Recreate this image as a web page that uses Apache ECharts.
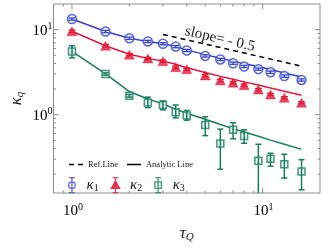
<!DOCTYPE html>
<html><head><meta charset="utf-8">
<script src="https://cdn.jsdelivr.net/npm/echarts@6/dist/echarts.min.js"></script>
<style>html,body{margin:0;padding:0;background:#fff}#c{width:332px;height:248px}</style>
</head><body><div id="c"></div>
<script>
// ---- data ----
const tauQ = [1, 1.5, 2, 2.5, 3, 3.5, 4, 5, 6, 7, 8, 9.5, 11, 13, 16];
const k1 = [13.3, 9.49, 7.9, 7.26, 6.82, 6.31, 5.68, 4.91, 4.46, 4.02, 3.68, 3.43, 3.15, 2.84, 2.56];
const k1Err = [0.4, 0.3, 0.25, 0.22, 0.2, 0.19, 0.17, 0.15, 0.13, 0.12, 0.11, 0.1, 0.1, 0.09, 0.08];
const k2 = [9.57, 6.47, 5.08, 4.58, 4.26, 3.62, 3.43, 2.89, 2.53, 2.38, 2.22, 1.97, 1.73, 1.58, 1.38];
const k2Err = [0.3, 0.2, 0.16, 0.14, 0.13, 0.11, 0.1, 0.09, 0.08, 0.07, 0.07, 0.06, 0.05, 0.05, 0.04];
const k3 = [5.53, 3.01, 1.67, 1.39, 1.30, 1.07, 0.98, 0.757, 0.457, 0.664, 0.561, 0.288, 0.303, 0.262, 0.215];
const k3Lo = [4.66, 2.92, 1.61, 1.21, 1.14, 0.915, 0.862, 0.567, 0.228, 0.521, 0.461, 0.10, 0.248, 0.180, 0.131];
const k3Hi = [6.47, 3.10, 1.73, 1.61, 1.45, 1.30, 1.12, 0.944, 0.676, 0.804, 0.664, 0.449, 0.352, 0.343, 0.296];
const fit1 = [13.3, 9.49, 7.9, 7.26, 6.82, 6.34, 5.78, 5.08, 4.61, 4.26, 3.98, 3.68, 3.39, 3.09, 2.77];
const fit2 = [9.57, 6.47, 5.14, 4.58, 4.26, 3.91, 3.57, 3.14, 2.82, 2.61, 2.43, 2.23, 2.06, 1.88, 1.69];
const fit3 = [5.53, 3.01, 1.87, 1.53, 1.34, 1.16, 1.04, 0.885, 0.766, 0.685, 0.625, 0.557, 0.502, 0.449, 0.391];
const refX = [3, 16];
const refY = [8.78, 3.72];
const xMajorTicks = [1, 10];
const xMinorTicks = [0.9, 2, 3, 4, 5, 6, 7, 8, 9];
const yMajorTicks = [1, 10];
const yMinorTicks = [0.2, 0.3, 0.4, 0.5, 0.6, 0.7, 0.8, 0.9, 2, 3, 4, 5, 6, 7, 8, 9];
const X_MIN = 0.8, X_MAX = 20, Y_MIN = 0.12, Y_MAX = 20;

// ---- style ----
const SERIF = "'Liberation Serif','DejaVu Serif',serif";
const BLUE = '#3142cc', RED = '#e0193a', GREEN = '#1b7d64';
const AXIS = '#8c8c8c', TXT = '#1a1a1a';

const chart = echarts.init(document.getElementById('c'), null, {renderer: 'canvas'});

function pair(xs, ys) { return xs.map((x, i) => [x, ys[i]]); }

function errRender(color, capW, lw) {
  return function (params, api) {
    const x = api.value(0), lo = api.value(1), hi = api.value(2);
    const p1 = api.coord([x, lo]), p2 = api.coord([x, hi]);
    const st = {stroke: color, lineWidth: lw};
    return {type: 'group', children: [
      {type: 'line', shape: {x1: p1[0], y1: p1[1], x2: p2[0], y2: p2[1]}, style: st},
      {type: 'line', shape: {x1: p1[0] - capW / 2, y1: p1[1], x2: p1[0] + capW / 2, y2: p1[1]}, style: st},
      {type: 'line', shape: {x1: p2[0] - capW / 2, y1: p2[1], x2: p2[0] + capW / 2, y2: p2[1]}, style: st}
    ]};
  };
}

const supRich = {
  n: {fontFamily: SERIF, fontSize: 15, lineHeight: 18, color: TXT},
  e: {fontFamily: SERIF, fontSize: 10, lineHeight: 10, verticalAlign: 'top', color: TXT}
};

function xTickRender(params, api) {
  const v = api.value(0), major = api.value(2);
  const b = api.coord([v, Y_MIN]), t = api.coord([v, Y_MAX]);
  const L = major ? 5 : 2.5;
  const st = {stroke: AXIS, lineWidth: 1};
  const ch = [
    {type: 'line', shape: {x1: b[0], y1: b[1], x2: b[0], y2: b[1] - L}, style: st},
    {type: 'line', shape: {x1: t[0], y1: t[1], x2: t[0], y2: t[1] + L}, style: st}
  ];
  if (major) {
    ch.push({type: 'text', x: b[0] + 1, y: b[1] + 9, style: {
      text: '{n|10}{e|' + Math.round(Math.log10(v)) + '}', align: 'center', verticalAlign: 'top', rich: supRich}});
  }
  return {type: 'group', children: ch};
}

function yTickRender(params, api) {
  const v = api.value(1), major = api.value(2);
  const l = api.coord([X_MIN, v]), r = api.coord([X_MAX, v]);
  const L = major ? 5 : 2.5;
  const st = {stroke: AXIS, lineWidth: 1};
  const ch = [
    {type: 'line', shape: {x1: l[0], y1: l[1], x2: l[0] + L, y2: l[1]}, style: st},
    {type: 'line', shape: {x1: r[0], y1: r[1], x2: r[0] - L, y2: r[1]}, style: st}
  ];
  if (major) {
    ch.push({type: 'text', x: l[0] - 1, y: l[1] + 1, style: {
      text: '{n|10}{e|' + Math.round(Math.log10(v)) + '}', align: 'right', verticalAlign: 'middle', rich: supRich}});
  }
  return {type: 'group', children: ch};
}

const xTickData = xMajorTicks.map(v => [v, Y_MIN, 1]).concat(xMinorTicks.map(v => [v, Y_MIN, 0]));
const yTickData = yMajorTicks.map(v => [X_MIN, v, 1]).concat(yMinorTicks.map(v => [X_MIN, v, 0]));

const icon1 = 'path://M2,0L8,0M5,0L5,16M2,16L8,16M8.5,8A3.5,3.5,0,1,1,1.5,8A3.5,3.5,0,1,1,8.5,8Z';
const icon2 = 'path://M2,0L8,0M5,0L5,16M2,16L8,16M5,3.5L9.5,11.5L0.5,11.5Z';
const icon3 = 'path://M2,0L8,0M5,0L5,16M2,16L8,16M1.5,4.5L8.5,4.5L8.5,11.5L1.5,11.5Z';
const iconDash = 'path://M0,0h5v1.5h-5zM9,0h5v1.5h-5z';
const iconSolid = 'path://M0,0h14v1.5h-14z';

const option = {
  animation: false,
  backgroundColor: '#fff',
  grid: {left: 50, right: 12, top: 4, bottom: 49, show: true, borderColor: AXIS, borderWidth: 1, backgroundColor: 'transparent'},
  xAxis: {
    type: 'log', logBase: 10, min: X_MIN, max: X_MAX,
    axisLine: {show: false}, axisTick: {show: false}, axisLabel: {show: false}, splitLine: {show: false},
    name: '{t|τ}{s|Q}', nameLocation: 'middle', nameGap: 32,
    nameTextStyle: {rich: {
      t: {fontFamily: SERIF, fontSize: 17, fontStyle: 'italic', color: TXT, lineHeight: 18},
      s: {fontFamily: SERIF, fontSize: 11, fontStyle: 'italic', color: TXT, verticalAlign: 'bottom', lineHeight: 12}
    }}
  },
  yAxis: {
    type: 'log', logBase: 10, min: Y_MIN, max: Y_MAX,
    axisLine: {show: false}, axisTick: {show: false}, axisLabel: {show: false}, splitLine: {show: false},
    name: '{k|κ}{s|q}', nameLocation: 'middle', nameGap: 28, nameRotate: 90,
    nameTextStyle: {rich: {
      k: {fontFamily: SERIF, fontSize: 17, fontStyle: 'italic', color: TXT, lineHeight: 18},
      s: {fontFamily: SERIF, fontSize: 11, fontStyle: 'italic', color: TXT, verticalAlign: 'bottom', lineHeight: 12}
    }}
  },
  legend: [
    {
      left: 69, top: 160, padding: 0, itemGap: 9, itemWidth: 14, itemHeight: 10, selectedMode: false,
      textStyle: {fontFamily: SERIF, fontSize: 8.5, color: TXT},
      data: [
        {name: 'Ref.Line', icon: iconDash, itemStyle: {color: '#000', borderWidth: 0}},
        {name: 'Analytic Line', icon: iconSolid, itemStyle: {color: '#000', borderWidth: 0}}
      ]
    },
    {
      left: 68, top: 177, padding: 0, itemGap: 12, itemWidth: 9, itemHeight: 15, selectedMode: false,
      formatter: name => '{k|κ}{s|' + name.slice(1) + '}',
      textStyle: {padding: [0, 0, 0, 5], rich: {
        k: {fontFamily: SERIF, fontSize: 15, fontStyle: 'italic', color: TXT, lineHeight: 16},
        s: {fontFamily: SERIF, fontSize: 10, color: TXT, verticalAlign: 'bottom', lineHeight: 10}
      }},
      data: [
        {name: 'κ1', icon: icon1, itemStyle: {color: '#fff', borderColor: BLUE, borderWidth: 1.3}},
        {name: 'κ2', icon: icon2, itemStyle: {color: RED, borderColor: RED, borderWidth: 1.3}},
        {name: 'κ3', icon: icon3, itemStyle: {color: '#e4f1ec', borderColor: GREEN, borderWidth: 1.3}}
      ]
    }
  ],
  graphic: [{
    type: 'text', x: 220, y: 39, rotation: -0.23,
    style: {text: 'slope= - 0.5', fontFamily: SERIF, fontSize: 15, fill: TXT, align: 'center', verticalAlign: 'middle'}
  }],
  series: [
    {type: 'line', name: 'fit1', data: pair(tauQ, fit1), symbol: 'none', lineStyle: {color: BLUE, width: 1.5}, z: 2, silent: true},
    {type: 'line', name: 'fit2', data: pair(tauQ, fit2), symbol: 'none', lineStyle: {color: RED, width: 1.5}, z: 2, silent: true},
    {type: 'line', name: 'fit3', data: pair(tauQ, fit3), symbol: 'none', lineStyle: {color: GREEN, width: 1.5}, z: 2, silent: true},
    {type: 'line', name: 'Ref.Line', data: pair(refX, refY), symbol: 'none', itemStyle: {color: '#000'},
      lineStyle: {color: '#000', width: 1.5, type: [5, 4]}, z: 2, silent: true},
    {type: 'line', name: 'Analytic Line', data: [], symbol: 'none', itemStyle: {color: '#000'}, lineStyle: {color: '#000', width: 1.5}},
    {type: 'scatter', name: 'κ1', data: pair(tauQ, k1), symbol: 'circle', symbolSize: 9,
      itemStyle: {color: '#fff', borderColor: BLUE, borderWidth: 1.5}, z: 3, silent: true},
    {type: 'scatter', name: 'κ2', data: pair(tauQ, k2), symbol: 'triangle', symbolSize: [10, 9],
      itemStyle: {color: RED, borderColor: RED, borderWidth: 0.5}, z: 3, silent: true},
    {type: 'scatter', name: 'κ3', data: pair(tauQ, k3), symbol: 'rect', symbolSize: 7,
      itemStyle: {color: '#e4f1ec', borderColor: GREEN, borderWidth: 1.5}, z: 3, silent: true},
    {type: 'custom', name: 'err1', data: tauQ.map((t, i) => [t, k1[i] - k1Err[i], k1[i] + k1Err[i]]),
      encode: {x: 0, y: [1, 2]}, renderItem: errRender(BLUE, 7, 1.3), z: 4, silent: true, clip: true},
    {type: 'custom', name: 'err2', data: tauQ.map((t, i) => [t, k2[i] - k2Err[i], k2[i] + k2Err[i]]),
      encode: {x: 0, y: [1, 2]}, renderItem: errRender(RED, 7, 1.3), z: 4, silent: true, clip: true},
    {type: 'custom', name: 'err3', data: tauQ.map((t, i) => [t, k3Lo[i], k3Hi[i]]),
      encode: {x: 0, y: [1, 2]}, renderItem: errRender(GREEN, 6, 1.5), z: 4, silent: true, clip: true},
    {type: 'custom', name: 'xticks', data: xTickData, encode: {x: 0, y: 1}, renderItem: xTickRender, z: 5, silent: true, clip: false},
    {type: 'custom', name: 'yticks', data: yTickData, encode: {x: 0, y: 1}, renderItem: yTickRender, z: 5, silent: true, clip: false}
  ]
};
chart.setOption(option);
</script>
</body></html>
